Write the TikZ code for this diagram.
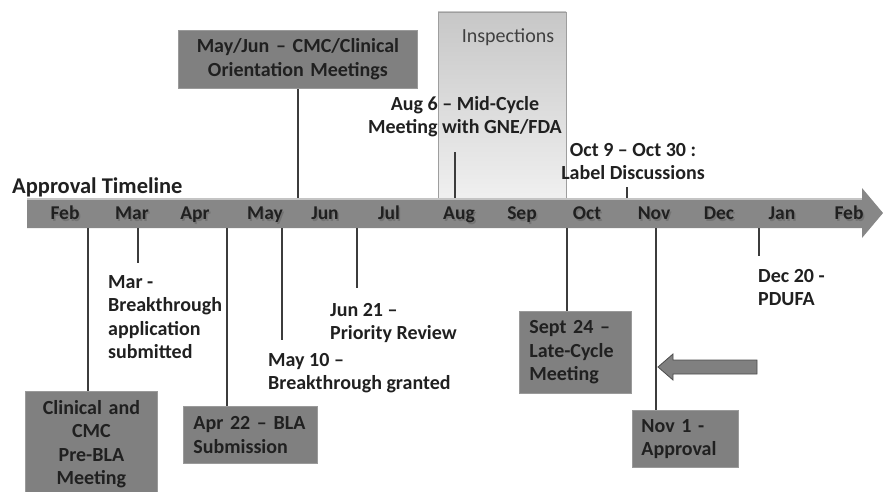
\documentclass[tikz,border=0pt]{standalone}
\usepackage{fontspec}
\setmainfont{Carlito}
\definecolor{ink}{HTML}{202020}
\definecolor{boxgray}{HTML}{808080}
\definecolor{boxedge}{HTML}{9A9A9A}
\definecolor{barfill}{HTML}{878787}
\definecolor{barlight}{HTML}{C4C4C4}
\definecolor{linegray}{HTML}{3C3C3C}
\begin{document}
\begin{tikzpicture}[x=1pt,y=-1pt,
  txt/.style={font=\bfseries\fontsize{20}{23.5}\selectfont, text=ink, inner sep=0pt},
  month/.style={font=\bfseries\fontsize{19.5}{23}\selectfont, text=ink, inner sep=0pt, anchor=base},
  monthshadow/.style={month, text=black!60, opacity=0.6},
  gbox/.style={txt, fill=boxgray, draw=boxedge, line width=0.8pt, inner xsep=10pt, inner ysep=0pt},
  tick/.style={draw=linegray, line width=1.1pt}]
\useasboundingbox (0,0) rectangle (883,492);

% inspection window behind the bar
\shade[top color=black!22, bottom color=black!6, draw=black!38, line width=0.8pt]
  (438,12) rectangle (566,198);
\node[font=\fontsize{20}{23}\selectfont, text=black!75, anchor=base] (insp) at (508,43) {Inspections};

% timeline arrow
\fill[barfill] (27,198) -- (862,198) -- (862,188) -- (883,213) -- (862,238) -- (862,228) -- (27,228) -- cycle;
\draw[barlight, line width=1.6pt] (27,198.8) -- (862,198.8);

\node[txt, font=\bfseries\fontsize{22.5}{26}\selectfont, anchor=base west] (title) at (12,193) {Approval Timeline};

% month labels with a soft drop shadow
\foreach \m/\x [count=\i] in {Feb/65,Mar/132,Apr/195,May/265,Jun/325,Jul/389,Aug/459,Sep/522,Oct/587,Nov/654,Dec/719,Jan/782,Feb/849}{
  \node[monthshadow] (s\i) at (\x+1.5,221) {\m};
  \node[month] (m\i) at (\x,219.5) {\m};
}

% attachment points on the bar
\coordinate (bClin) at (88,228);
\coordinate (bMar) at (138,228);
\coordinate (bApr) at (227,228);
\coordinate (bMay) at (282,228);
\coordinate (bJun) at (357,228);
\coordinate (bOct) at (567,228);
\coordinate (bNov) at (656,228);
\coordinate (bJan) at (759,228);
\coordinate (tMayJun) at (298,198);
\coordinate (tAug) at (455,198);
\coordinate (tLabel) at (627,198);

% free ends of the short markers
\coordinate (eMar) at (138,263);
\coordinate (eMay) at (282,340);
\coordinate (eJun) at (357,288);
\coordinate (eJan) at (759,256);
\coordinate (eAug) at (455,152);
\coordinate (eLabel) at (627,187);

% boxed milestones
\node[gbox, align=center, text width=239pt, inner xsep=0pt, minimum height=58pt, anchor=north west] (mayjun) at (178,30)
  {May/Jun – CMC/Clinical\\Orientation Meetings};
\node[gbox, align=center, text width=132pt, inner xsep=0pt, minimum height=106pt, anchor=north west] (clin) at (25,391)
  {Clinical and\\CMC\\Pre-BLA\\Meeting};
\node[gbox, align=left, text width=114pt, minimum height=57pt, anchor=north west] (apr) at (183,406)
  {Apr 22 – BLA\\Submission};
\node[gbox, align=left, text width=92pt, minimum height=82pt, anchor=north west] (sept) at (519,311)
  {Sept 24 –\\Late-Cycle\\Meeting};
\node[gbox, align=left, text width=88pt, inner xsep=9pt, minimum height=57pt, anchor=north west] (nov) at (632,410)
  {Nov 1 -\\Approval};

% free milestone labels
\node[txt, align=left, anchor=north west] (mar) at (108,275) {Mar -\\Breakthrough\\application\\submitted};
\node[txt, align=left, anchor=north west] (jun) at (330,303) {Jun 21 –\\Priority Review};
\node[txt, align=left, anchor=north west] (may) at (268,353) {May 10 –\\Breakthrough granted};
\node[txt, align=left, anchor=north west] (dec) at (758,269) {Dec 20 -\\PDUFA};
\node[txt, align=center, anchor=north] (aug) at (465,96) {Aug 6 – Mid-Cycle\\Meeting with GNE/FDA};
\node[txt, align=center, anchor=north] (lab) at (633,143) {Oct 9 – Oct 30 :\\Label Discussions};

% connectors
\draw[tick] (bClin) -- (bClin |- clin.north);
\draw[tick] (bMar) -- (eMar);
\draw[tick] (bApr) -- (bApr |- apr.north);
\draw[tick] (bMay) -- (eMay);
\draw[tick] (bJun) -- (eJun);
\draw[tick] (bOct) -- (bOct |- sept.north);
\draw[tick] (bNov) -- (bNov |- nov.north);
\draw[tick] (bJan) -- (eJan);
\draw[tick] (mayjun.south -| tMayJun) -- (tMayJun);
\draw[tick] (eAug) -- (tAug);
\draw[tick] (eLabel) -- (tLabel);

% block arrow pointing at the approval date
\draw[fill=boxgray, draw=black!70, line width=0.8pt]
  (658,367) -- (673,354) -- (673,360) -- (757,360) -- (757,374) -- (673,374) -- (673,380) -- cycle;
\end{tikzpicture}
\end{document}
